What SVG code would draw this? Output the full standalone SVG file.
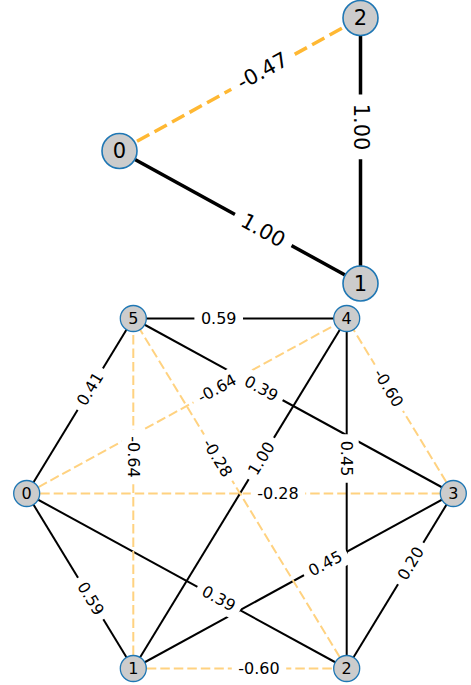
<svg xmlns="http://www.w3.org/2000/svg" width="471" height="685" viewBox="0 0 471 685">
<style>
text{font-family:"DejaVu Sans","Liberation Sans",sans-serif;fill:#000;text-anchor:middle;dominant-baseline:central}
.p{stroke:#000;stroke-width:2;fill:none}
.n{stroke:#ffd280;stroke-width:2;stroke-dasharray:9.5 4;fill:none}
.pt{stroke:#000;stroke-width:3.5;fill:none}
.nt{stroke:#ffb833;stroke-width:3.5;stroke-dasharray:14 6;fill:none}
.lb rect{fill:#fff}
.lb text{font-size:16px}
.lt rect{fill:#fff}
.lt text{font-size:21px}
.node circle{fill:#cccccc;stroke:#1f77b4;stroke-width:1.3}
.node text{font-size:16px}
.nodet circle{fill:#cccccc;stroke:#1f77b4;stroke-width:1.6}
.nodet text{font-size:21px}
</style>
<g id="connectors">
  <!-- top graph -->
  <line class="pt" x1="119.5" y1="151" x2="360.5" y2="283.5"/>
  <line class="nt" x1="119.5" y1="151" x2="360.5" y2="18"/>
  <line class="pt" x1="360.5" y1="283.5" x2="360.5" y2="18"/>
  <!-- bottom graph -->
  <line class="p" x1="26.7" y1="493.5" x2="133.3" y2="668.5"/>
  <line class="p" x1="26.7" y1="493.5" x2="346.7" y2="668.5"/>
  <line class="n" x1="26.7" y1="493.5" x2="453.3" y2="493.5"/>
  <line class="n" x1="26.7" y1="493.5" x2="346.7" y2="318.5"/>
  <line class="p" x1="26.7" y1="493.5" x2="133.3" y2="318.5"/>
  <line class="n" x1="133.3" y1="668.5" x2="346.7" y2="668.5"/>
  <line class="p" x1="133.3" y1="668.5" x2="453.3" y2="493.5"/>
  <line class="p" x1="133.3" y1="668.5" x2="346.7" y2="318.5"/>
  <line class="n" x1="133.3" y1="668.5" x2="133.3" y2="318.5"/>
  <line class="p" x1="346.7" y1="668.5" x2="453.3" y2="493.5"/>
  <line class="p" x1="346.7" y1="668.5" x2="346.7" y2="318.5"/>
  <line class="n" x1="346.7" y1="668.5" x2="133.3" y2="318.5"/>
  <line class="n" x1="453.3" y1="493.5" x2="346.7" y2="318.5"/>
  <line class="p" x1="453.3" y1="493.5" x2="133.3" y2="318.5"/>
  <line class="p" x1="346.7" y1="318.5" x2="133.3" y2="318.5"/>
  <!-- top labels -->
  <g class="lt" transform="translate(263,230.5) rotate(28.8)"><rect x="-32.4" y="-16" width="64.7" height="32" rx="6"/><text>1.00</text></g>
  <g class="lt" transform="translate(262.5,71) rotate(-28.9)"><rect x="-36.2" y="-16" width="72.3" height="32" rx="6"/><text>-0.47</text></g>
  <g class="lt" transform="translate(360.5,127) rotate(90)"><rect x="-32.4" y="-16" width="64.7" height="32" rx="6"/><text>1.00</text></g>
  <!-- bottom labels -->
  <g class="lb" transform="translate(90.7,598.5) rotate(58.65)"><rect x="-24.3" y="-12" width="48.6" height="24" rx="5"/><text>0.59</text></g>
  <g class="lb" transform="translate(218.7,598.5) rotate(28.67)"><rect x="-24.3" y="-12" width="48.6" height="24" rx="5"/><text>0.39</text></g>
  <g class="lb" transform="translate(278,493.5)"><rect x="-27.2" y="-12" width="54.4" height="24" rx="5"/><text>-0.28</text></g>
  <g class="lb" transform="translate(217,388.5) rotate(-28.67)"><rect x="-27.2" y="-12" width="54.4" height="24" rx="5"/><text>-0.64</text></g>
  <g class="lb" transform="translate(90,389) rotate(-58.65)"><rect x="-24.3" y="-12" width="48.6" height="24" rx="5"/><text>0.41</text></g>
  <g class="lb" transform="translate(259,668.5)"><rect x="-27.2" y="-12" width="54.4" height="24" rx="5"/><text>-0.60</text></g>
  <g class="lb" transform="translate(325.3,563.5) rotate(-28.67)"><rect x="-24.3" y="-12" width="48.6" height="24" rx="5"/><text>0.45</text></g>
  <g class="lb" transform="translate(261.3,458.5) rotate(-58.65)"><rect x="-24.3" y="-12" width="48.6" height="24" rx="5"/><text>1.00</text></g>
  <g class="lb" transform="translate(133.3,457) rotate(90)"><rect x="-27.2" y="-12" width="54.4" height="24" rx="5"/><text>-0.64</text></g>
  <g class="lb" transform="translate(410.7,563.5) rotate(-58.65)"><rect x="-24.3" y="-12" width="48.6" height="24" rx="5"/><text>0.20</text></g>
  <g class="lb" transform="translate(346.7,458.5) rotate(90)"><rect x="-24.3" y="-12" width="48.6" height="24" rx="5"/><text>0.45</text></g>
  <g class="lb" transform="translate(217.5,458) rotate(58.63)"><rect x="-27.2" y="-12" width="54.4" height="24" rx="5"/><text>-0.28</text></g>
  <g class="lb" transform="translate(388.5,388) rotate(58.65)"><rect x="-27.2" y="-12" width="54.4" height="24" rx="5"/><text>-0.60</text></g>
  <g class="lb" transform="translate(261.3,388.5) rotate(28.67)"><rect x="-24.3" y="-12" width="48.6" height="24" rx="5"/><text>0.39</text></g>
  <g class="lb" transform="translate(218.7,318.5)"><rect x="-24.3" y="-12" width="48.6" height="24" rx="5"/><text>0.59</text></g>
</g>
<g id="top-node-0" class="nodet"><circle cx="119.5" cy="151" r="17.5"/><text x="119.5" y="151">0</text></g>
<g id="top-node-1" class="nodet"><circle cx="360.5" cy="283.5" r="17.5"/><text x="360.5" y="283.5">1</text></g>
<g id="top-node-2" class="nodet"><circle cx="360.5" cy="18" r="17.5"/><text x="360.5" y="18">2</text></g>
<g id="node-0" class="node"><circle cx="26.7" cy="493.5" r="13"/><text x="26.7" y="493.5">0</text></g>
<g id="node-1" class="node"><circle cx="133.3" cy="668.5" r="13"/><text x="133.3" y="668.5">1</text></g>
<g id="node-2" class="node"><circle cx="346.7" cy="668.5" r="13"/><text x="346.7" y="668.5">2</text></g>
<g id="node-3" class="node"><circle cx="453.3" cy="493.5" r="13"/><text x="453.3" y="493.5">3</text></g>
<g id="node-4" class="node"><circle cx="346.7" cy="318.5" r="13"/><text x="346.7" y="318.5">4</text></g>
<g id="node-5" class="node"><circle cx="133.3" cy="318.5" r="13"/><text x="133.3" y="318.5">5</text></g>
</svg>
